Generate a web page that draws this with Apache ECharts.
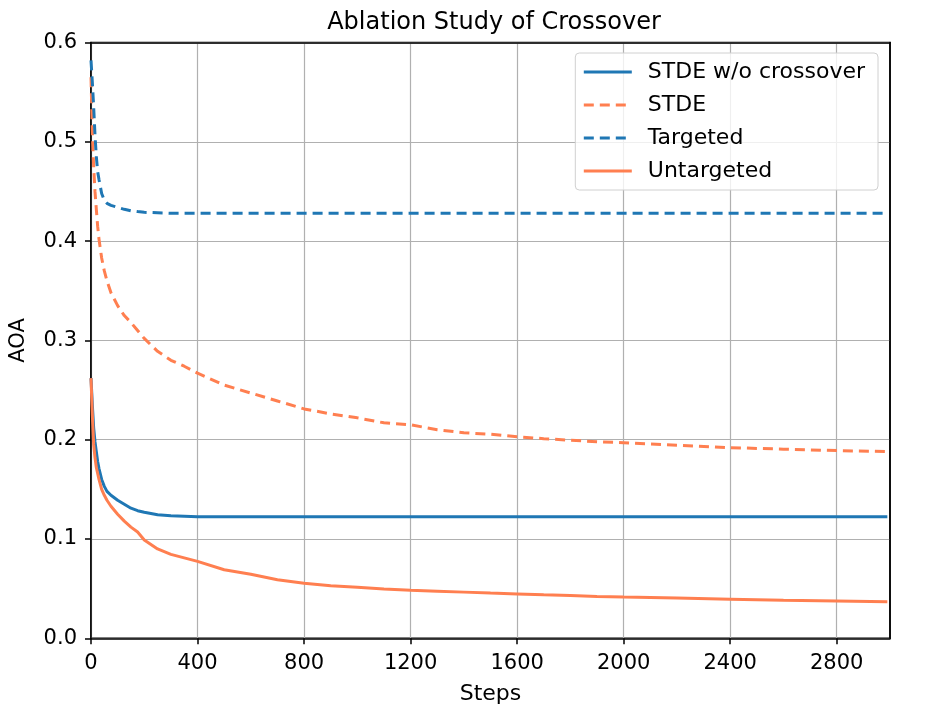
<!DOCTYPE html>
<html>
<head>
<meta charset="utf-8">
<script src="https://cdn.jsdelivr.net/npm/echarts@6/dist/echarts.min.js"></script>
<style>
html,body{margin:0;padding:0;background:#fff;}
#container{width:951px;height:713px;}
</style>
</head>
<body>
<div id="container"></div>
<script>
// steps sampled along the curves
var steps = [0,5,10,15,20,25,30,40,50,60,75,100,125,150,175,200,250,300,350,400,500,600,700,800,900,1000,1100,1200,1300,1400,1500,1600,1700,1800,1900,2000,2200,2400,2600,2800,2990];

var noCrossover = [0.262,0.235,0.212,0.198,0.188,0.178,0.171,0.160,0.153,0.148,0.144,0.139,0.135,0.131,0.1285,0.127,0.1245,0.1235,0.123,0.1225,0.1225,0.1225,0.1225,0.1225,0.1225,0.1225,0.1225,0.1225,0.1225,0.1225,0.1225,0.1225,0.1225,0.1225,0.1225,0.1225,0.1225,0.1225,0.1225,0.1225,0.1225];

var stde = [0.565,0.51,0.475,0.45,0.432,0.415,0.402,0.383,0.370,0.360,0.348,0.335,0.325,0.318,0.310,0.302,0.289,0.280,0.274,0.267,0.255,0.247,0.239,0.231,0.226,0.222,0.217,0.215,0.210,0.207,0.2055,0.203,0.201,0.1995,0.198,0.197,0.1945,0.192,0.1905,0.189,0.188];

var targeted = [0.582,0.56,0.535,0.507,0.485,0.47,0.462,0.448,0.441,0.438,0.436,0.434,0.432,0.4305,0.4297,0.429,0.4285,0.428,0.428,0.428,0.428,0.428,0.428,0.428,0.428,0.428,0.428,0.428,0.428,0.428,0.428,0.428,0.428,0.428,0.428,0.428,0.428,0.428,0.428,0.428,0.428];

var untargeted = [0.262,0.225,0.195,0.182,0.172,0.166,0.160,0.150,0.144,0.139,0.133,0.125,0.118,0.112,0.107,0.099,0.090,0.0845,0.081,0.0775,0.069,0.0645,0.059,0.0555,0.053,0.0515,0.0497,0.0485,0.0475,0.0465,0.0455,0.0447,0.0438,0.043,0.0422,0.0415,0.0405,0.0394,0.0382,0.0376,0.0369];

var xTicks = [0,400,800,1200,1600,2000,2400,2800];
var yTicks = [0,0.1,0.2,0.3,0.4,0.5,0.6];

var blue = '#1f77b4', orange = '#ff7f50';
var font = 'DejaVu Sans';

function pairs(ys) {
    var out = [];
    for (var i = 0; i < steps.length; i++) {
        out.push([steps[i], ys[i]]);
    }
    return out;
}

function line(name, ys, color, dashed) {
    return {
        name: name,
        type: 'line',
        symbol: 'none',
        xAxisIndex: 0,
        yAxisIndex: 0,
        animation: false,
        lineStyle: {color: color, width: 3, type: dashed ? [10, 6] : 'solid'},
        itemStyle: {color: color},
        data: pairs(ys)
    };
}

// top / right spines drawn over the grid lines
function spine(extra) {
    var o = {
        type: 'value',
        z: 5,
        axisLine: {show: true, onZero: false, lineStyle: {color: '#000', width: 1.5}},
        axisTick: {show: false},
        axisLabel: {show: false},
        splitLine: {show: false}
    };
    for (var k in extra) o[k] = extra[k];
    return o;
}

var myChart = echarts.init(document.getElementById('container'));

var option = {
    backgroundColor: '#fff',
    animation: false,
    title: {
        text: 'Ablation Study of Crossover',
        left: 489,
        top: 6,
        textAlign: 'center',
        textStyle: {fontFamily: font, fontSize: 24, fontWeight: 'normal', color: '#000'}
    },
    grid: {
        left: 88, right: 61, top: 42.5, bottom: 74.7,
        show: true, borderColor: '#000', borderWidth: 1.5, backgroundColor: '#fff'
    },
    legend: {
        orient: 'vertical',
        right: 73,
        top: 53,
        itemWidth: 48,
        itemHeight: 14,
        itemGap: 11,
        padding: [8, 13, 8, 7],
        borderColor: '#d0d0d0',
        borderWidth: 1,
        borderRadius: 4,
        backgroundColor: 'rgba(255,255,255,0.8)',
        itemStyle: {opacity: 0},
        lineStyle: {width: 3},
        textStyle: {fontFamily: font, fontSize: 22, color: '#000', lineHeight: 22, padding: [0, 0, 0, 11]},
        data: ['STDE w/o crossover', 'STDE', 'Targeted', 'Untargeted']
    },
    xAxis: [{
        type: 'value',
        min: 0,
        max: 3000,
        interval: 400,
        name: 'Steps',
        nameLocation: 'middle',
        nameGap: 45,
        nameTextStyle: {fontFamily: font, fontSize: 22, color: '#000'},
        axisLine: {show: true, onZero: false, lineStyle: {color: '#000', width: 1.5}},
        axisTick: {show: true, length: 6, customValues: xTicks, lineStyle: {color: '#000', width: 1.5}},
        axisLabel: {
            customValues: xTicks, margin: 15, fontFamily: font, fontSize: 21, color: '#000',
            formatter: function (v) { return String(v); }
        },
        splitLine: {show: true, lineStyle: {color: '#b0b0b0', width: 1.2}}
    }, spine({position: 'top', min: 0, max: 3000})],
    yAxis: [{
        type: 'value',
        min: 0,
        max: 0.6,
        interval: 0.1,
        name: 'AOA',
        nameLocation: 'middle',
        nameGap: 62,
        nameTextStyle: {fontFamily: font, fontSize: 21, color: '#000'},
        axisLine: {show: true, lineStyle: {color: '#000', width: 1.5}},
        axisTick: {show: true, length: 6, customValues: yTicks, lineStyle: {color: '#000', width: 1.5}},
        axisLabel: {
            customValues: yTicks,
            margin: 14,
            fontFamily: font, fontSize: 21, color: '#000',
            formatter: function (v) { return v.toFixed(1); }
        },
        splitLine: {show: true, lineStyle: {color: '#b0b0b0', width: 1.2}}
    }, spine({position: 'right', min: 0, max: 0.6})],
    series: [
        line('STDE w/o crossover', noCrossover, blue, false),
        line('STDE', stde, orange, true),
        line('Targeted', targeted, blue, true),
        line('Untargeted', untargeted, orange, false)
    ]
};

myChart.setOption(option);
</script>
</body>
</html>
